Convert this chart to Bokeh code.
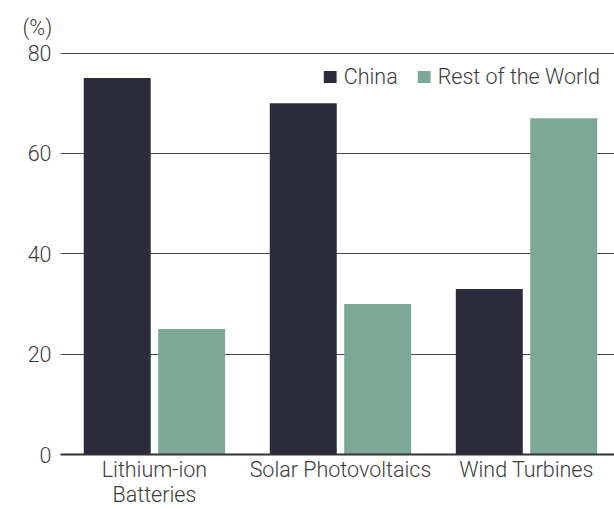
from bokeh.plotting import figure
from bokeh.models import (Range1d, FixedTicker, LinearAxis, Legend, LegendItem,
                          ColumnDataSource)
from bokeh.embed import file_html
from bokeh.resources import INLINE
from bokeh.transform import dodge

categories = ["Lithium-ion\nBatteries", "Solar Photovoltaics", "Wind Turbines"]
china = [75, 70, 33]
rest_of_world = [25, 30, 67]
y_ticks = [0, 20, 40, 60, 80]
series_names = ["China", "Rest of the World"]
y_unit = "(%)"

FONT = "Roboto Light"
TXT = "#3c3c3c"
FS = "21.5px"

positions = list(range(len(categories)))
src = ColumnDataSource(dict(x=positions, china=china, row=rest_of_world))

p = figure(width=614, height=509, output_backend="svg", toolbar_location=None,
           x_range=Range1d(-0.505, 2.473), y_range=Range1d(0, 80.5),
           min_border_left=60, min_border_right=0, min_border_top=50,
           min_border_bottom=54, y_axis_location=None)
p.outline_line_color = None
p.background_fill_color = "white"
p.border_fill_color = "white"

p.title.text = y_unit
p.title.align = "left"
p.title.offset = -38
p.title.text_font = FONT
p.title.text_font_style = "normal"
p.title.text_font_size = FS
p.title.text_color = TXT
p.title.standoff = 22

p.xgrid.visible = False
for g in p.ygrid:
    g.ticker = FixedTicker(ticks=y_ticks)
    g.grid_line_color = "#4a4a4a"
    g.grid_line_width = 1
    g.minor_grid_line_color = None

r1 = p.vbar(x=dodge("x", -0.2, range=p.x_range), top="china", width=0.36,
            source=src, fill_color="#2c2b3c", line_color=None)
r2 = p.vbar(x=dodge("x", 0.2, range=p.x_range), top="row", width=0.36,
            source=src, fill_color="#7da897", line_color=None)

xa = p.xaxis[0]
xa.ticker = FixedTicker(ticks=positions)
xa.major_label_overrides = {i: c for i, c in zip(positions, categories)}
xa.axis_line_color = "#333333"
xa.axis_line_width = 2
xa.major_tick_line_color = None
xa.minor_tick_line_color = None
xa.major_tick_out = 0
xa.major_tick_in = 0
xa.major_label_standoff = 2
xa.major_label_text_line_height = 1.0
xa.major_label_text_font = FONT
xa.major_label_text_font_size = FS
xa.major_label_text_color = TXT

lab_axis = LinearAxis(ticker=FixedTicker(ticks=y_ticks), major_tick_out=0, major_tick_in=0,
                      minor_tick_line_color=None, axis_line_color=None,
                      major_tick_line_color=None, major_label_standoff=9,
                      major_label_text_font=FONT, major_label_text_font_size=FS,
                      major_label_text_color=TXT)
p.add_layout(lab_axis, "left")

legend = Legend(items=[LegendItem(label=series_names[0], renderers=[r1]),
                       LegendItem(label=series_names[1], renderers=[r2])],
                orientation="horizontal", location="top_right",
                glyph_width=16, glyph_height=15, label_standoff=6, spacing=18,
                label_text_font=FONT, label_text_font_size=FS,
                label_text_color=TXT, background_fill_alpha=0,
                border_line_color=None, margin=14, padding=0)
p.add_layout(legend)

open("out.html", "w").write(file_html(p, INLINE))
